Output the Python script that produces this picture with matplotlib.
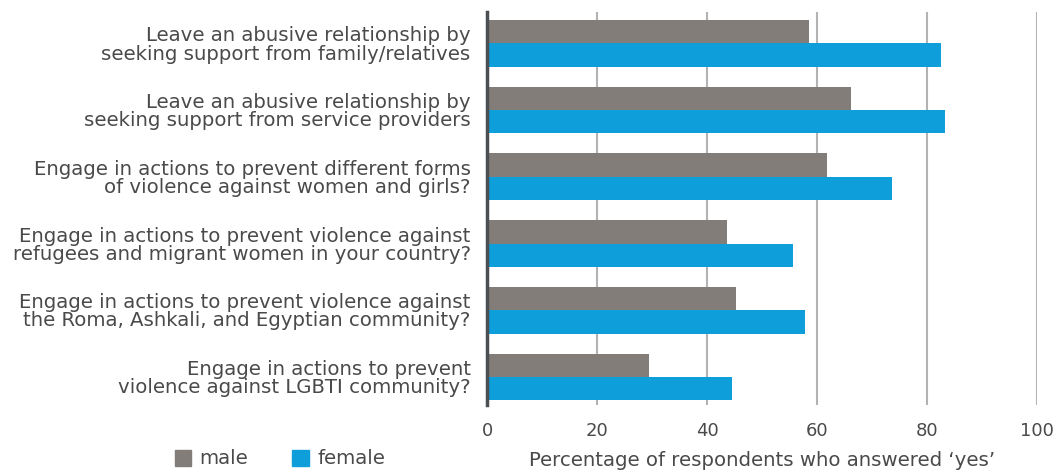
import matplotlib.pyplot as plt
import numpy as np
from matplotlib.patches import Patch

questions = [
    'Leave an abusive relationship by\nseeking support from family/relatives',
    'Leave an abusive relationship by\nseeking support from service providers',
    'Engage in actions to prevent different forms\nof violence against women and girls?',
    'Engage in actions to prevent violence against\nrefugees and migrant women in your country?',
    'Engage in actions to prevent violence against\nthe Roma, Ashkali, and Egyptian community?',
    'Engage in actions to prevent\nviolence against LGBTI community?',
]
male = [58.5, 66.2, 61.8, 43.6, 45.3, 29.4]
female = [82.6, 83.3, 73.7, 55.6, 57.8, 44.5]
xticks = [0, 20, 40, 60, 80, 100]

c_male = '#827d78'
c_female = '#0e9fda'
txt = '#4a4a4a'
fs = 14.2

plt.rcParams['font.family'] = ['DejaVu Sans']

fig = plt.figure(figsize=(10.53, 4.73), dpi=100)
ax = fig.add_axes([0.4628, 0.1438, 0.5217, 0.8308])

y = np.arange(len(questions))
h = 0.35
ax.barh(y - h / 2, male, height=h, color=c_male, zorder=2)
ax.barh(y + h / 2, female, height=h, color=c_female, zorder=2)

ax.set_xlim(0, 100)
ax.set_ylim(5.42, -0.47)
ax.set_xticks(xticks)
ax.set_yticks(y)
ax.set_yticklabels(questions, ha='right', linespacing=0.95)
ax.tick_params(axis='y', length=0, pad=12, labelsize=fs, labelcolor=txt)
ax.tick_params(axis='x', length=0, pad=12, labelsize=13, labelcolor=txt)

ax.grid(axis='x', color='#b3b3b3', linewidth=1.5, zorder=1)
for s in ['top', 'right', 'bottom']:
    ax.spines[s].set_visible(False)
ax.spines['left'].set_color('#4b4f52')
ax.spines['left'].set_linewidth(2.5)
ax.spines['left'].set_zorder(3)

ax.set_xlabel('Percentage of respondents who answered \u2018yes\u2019',
              fontsize=fs, color=txt, labelpad=8)

handles = [Patch(color=c_male, label='male'), Patch(color=c_female, label='female')]
fig.legend(handles=handles, loc='lower left', bbox_to_anchor=(0.149, -0.028),
           ncol=2, frameon=False, fontsize=fs, labelcolor=txt,
           handlelength=0.85, handleheight=0.85, handletextpad=0.4, columnspacing=2.25)

fig.savefig('out.png', dpi=100)
